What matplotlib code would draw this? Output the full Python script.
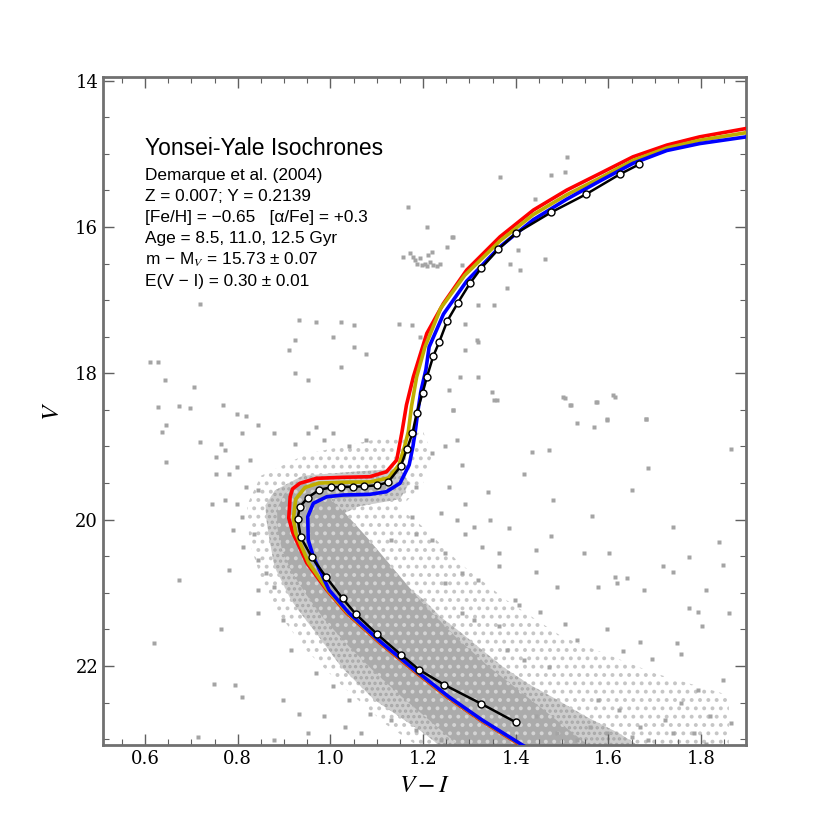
import matplotlib
matplotlib.use("Agg")
import matplotlib.pyplot as plt
from matplotlib.ticker import MultipleLocator

# ---------------- data ----------------
# Isochrones (V-I, V)
iso_red_x = [1.440, 1.405, 1.323, 1.251, 1.178, 1.107, 1.035, 0.992, 0.949, 0.919, 0.910, 0.913, 0.918, 0.934, 0.970,
             1.028, 1.085, 1.121, 1.143, 1.154, 1.164, 1.179, 1.208, 1.244, 1.294, 1.366, 1.438, 1.510, 1.582,
             1.653, 1.726, 1.797, 1.898, 1.950]
iso_red_y = [23.20, 23.06, 22.737, 22.419, 22.054, 21.686, 21.276, 20.961, 20.592, 20.183, 19.978, 19.687, 19.58, 19.503,
             19.435, 19.421, 19.413, 19.345, 19.185, 18.816, 18.434, 18.047, 17.454, 17.044, 16.589, 16.134,
             15.769, 15.496, 15.268, 15.041, 14.881, 14.768, 14.653, 14.600]

iso_olive_x = [1.442, 1.407, 1.325, 1.253, 1.180, 1.109, 1.037, 0.994, 0.953, 0.925, 0.920, 0.925, 0.945, 0.975,
               1.028, 1.085, 1.125, 1.148, 1.160, 1.168, 1.175, 1.186, 1.204, 1.238, 1.290, 1.366, 1.438, 1.510,
               1.582, 1.653, 1.726, 1.797, 1.898, 1.950]
iso_olive_y = [23.20, 23.06, 22.737, 22.419, 22.054, 21.686, 21.276, 20.961, 20.592, 20.183, 19.98, 19.72, 19.56,
               19.50, 19.49, 19.485, 19.43, 19.25, 19.00, 18.80, 18.45, 18.05, 17.64, 17.11, 16.66, 16.19, 15.83,
               15.56, 15.33, 15.09, 14.92, 14.815, 14.71, 14.665]

iso_blue_x = [1.445, 1.409, 1.327, 1.255, 1.182, 1.111, 1.040, 0.997, 0.963, 0.952, 0.951, 0.963, 0.992, 1.028,
              1.085, 1.121, 1.150, 1.170, 1.178, 1.183, 1.188, 1.195, 1.206, 1.213, 1.244, 1.294, 1.366, 1.438,
              1.510, 1.582, 1.653, 1.726, 1.797, 1.898, 1.950]
iso_blue_y = [23.20, 23.06, 22.737, 22.419, 22.054, 21.686, 21.276, 20.961, 20.506, 20.278, 19.960, 19.777, 19.687,
              19.663, 19.654, 19.618, 19.503, 19.25, 19.00, 18.80, 18.55, 18.25, 17.95, 17.64, 17.19, 16.74,
              16.27, 15.90, 15.62, 15.37, 15.13, 14.955, 14.860, 14.768, 14.730]

# Fiducial sequence (points with open circles)
fid_x = [1.400, 1.325, 1.245, 1.192, 1.152, 1.101, 1.055, 1.026, 0.990, 0.960, 0.936, 0.929, 0.934, 0.951, 0.975,
         1.001, 1.023, 1.048, 1.073, 1.100, 1.124, 1.152, 1.165, 1.177, 1.186, 1.199, 1.208, 1.222, 1.235, 1.252,
         1.275, 1.301, 1.325, 1.362, 1.400, 1.476, 1.551, 1.625, 1.666]
fid_y = [22.769, 22.515, 22.255, 22.054, 21.845, 21.567, 21.293, 21.075, 20.780, 20.517, 20.241, 19.987, 19.823,
         19.700, 19.595, 19.558, 19.554, 19.550, 19.544, 19.531, 19.490, 19.267, 19.035, 18.820, 18.547, 18.266,
         18.055, 17.764, 17.569, 17.286, 17.036, 16.771, 16.566, 16.306, 16.088, 15.801, 15.555, 15.278, 15.145]

# Crowded star cloud of the cluster: dense inner part, its outer edge, and the sparse halo
core_x = [0.935, 0.900, 0.885, 0.885, 0.895, 0.915, 0.945, 0.985, 1.035, 1.090, 1.150, 1.215, 1.280,
          1.560, 1.500, 1.420, 1.340, 1.270, 1.200, 1.140, 1.080, 1.030, 1.000, 1.080, 1.120, 1.120, 1.040]
core_y = [19.50, 19.65, 19.85, 20.10, 20.40, 20.70, 21.00, 21.35, 21.70, 22.05, 22.40, 22.75, 23.10,
          23.10, 22.80, 22.40, 22.00, 21.60, 21.15, 20.70, 20.25, 19.90, 19.72, 19.68, 19.58, 19.46, 19.46]
cloud_x = [0.940, 0.880, 0.860, 0.861, 0.866, 0.879, 0.897, 0.915, 0.942, 0.969, 0.996, 1.023, 1.059, 1.094,
           1.148, 1.202, 1.238, 1.668, 1.623, 1.551, 1.489, 1.426, 1.372, 1.327, 1.283, 1.238, 1.202, 1.157,
           1.121, 1.085, 1.050, 1.014, 1.060, 1.150, 1.170, 1.150, 1.040]
cloud_y = [19.40, 19.60, 19.80, 19.96, 20.19, 20.64, 20.87, 21.10, 21.33, 21.55, 21.78, 22.01, 22.24, 22.46,
           22.69, 22.92, 23.10, 23.10, 22.92, 22.69, 22.46, 22.24, 22.01, 21.78, 21.55, 21.33, 21.10, 20.87,
           20.64, 20.42, 20.19, 19.96, 19.82, 19.72, 19.50, 19.30, 19.35]
halo_x = [0.950, 0.850, 0.820, 0.825, 0.850, 0.890, 0.950, 1.030, 1.120, 1.190, 1.860, 1.860, 1.700,
          1.500, 1.380, 1.280, 1.200, 1.150, 1.200, 1.220, 1.200, 1.100]
halo_y = [19.10, 19.40, 19.80, 20.30, 20.80, 21.30, 21.80, 22.30, 22.80, 23.10, 23.10, 22.40, 22.10,
          21.60, 21.10, 20.60, 20.10, 19.85, 19.50, 19.10, 18.80, 18.90]

# Field / scattered stars
star_x = [0.718, 0.611, 0.628, 0.642, 0.705, 0.628, 0.673, 0.696, 0.767, 0.646, 0.637, 0.718, 0.646, 0.763, 0.754,
          0.772, 0.745, 0.799, 0.790, 0.781, 0.673, 0.763, 0.619, 0.749, 0.794, 0.808, 0.714, 0.897, 0.843, 0.933,
          0.969, 1.023, 1.050, 0.924, 1.005, 0.911, 1.050, 1.076, 0.924, 0.951, 1.023, 1.148, 1.175, 1.193, 1.318,
          1.354, 1.291, 1.318, 1.291, 1.318, 1.256, 1.265, 1.354, 1.506, 1.574, 1.614, 1.520, 1.596, 1.681, 1.533,
          1.569, 1.471, 1.435, 1.865, 1.686, 1.417, 1.283, 1.650, 1.480, 1.565, 1.739, 1.386, 1.475, 1.444, 1.327,
          1.363, 1.547, 1.601, 1.838, 1.775, 1.847, 1.717, 1.739, 1.444, 1.489, 1.614, 1.641, 1.619, 1.578, 1.677,
          1.811, 1.775, 1.793, 1.860, 1.399, 1.408, 1.453, 1.506, 1.533, 1.596, 1.668, 1.748, 1.802, 1.757, 1.695,
          1.632, 1.847, 1.793, 1.757, 1.722, 1.820, 1.784, 1.865, 1.578, 1.623, 1.668, 1.489, 1.444, 1.381, 1.417,
          1.471, 1.363, 1.309, 1.283, 1.247, 1.283, 1.318, 1.363, 1.247, 1.220, 1.184, 1.130, 1.175, 1.238, 1.274,
          1.291, 1.309, 1.345, 1.256, 1.341, 1.291, 1.184, 1.166, 1.220, 1.247, 1.274, 1.076, 1.041, 1.005, 0.987,
          0.969, 0.951, 0.924, 0.879, 0.843, 0.817, 0.799, 0.808, 0.772, 0.799, 0.826, 0.754, 0.781, 0.817, 0.843,
          0.808, 0.835, 0.812, 0.843, 0.861, 0.879, 0.843, 0.897, 0.915, 0.969, 1.005, 1.041, 1.085, 1.130, 1.184,
          1.238, 0.987, 1.032, 1.067, 0.933, 0.951, 0.879, 1.533, 1.560, 1.596, 1.650, 1.686, 1.739, 1.811,
          1.510, 1.477, 1.506, 1.366, 1.168, 1.208, 1.441, 1.265, 1.463, 1.405, 1.387, 1.409, 1.283, 1.381, 1.316,
          1.280, 1.348, 1.359, 1.502, 1.517, 1.575, 1.610, 1.265, 1.682, 1.596,
          1.157, 1.172, 1.183, 1.193, 1.204, 1.215, 1.222, 1.211, 1.229, 1.197, 1.186, 1.219, 1.236, 1.179, 1.208,
          1.262, 1.251]
star_y = [17.05, 17.84, 17.84, 18.09, 18.19, 18.46, 18.45, 18.48, 18.43, 18.71, 18.80, 18.94, 19.21, 18.96, 19.37,
          19.73, 19.78, 19.78, 20.14, 20.69, 20.83, 21.49, 21.69, 22.24, 22.26, 22.42, 22.97, 22.46, 21.28, 17.27,
          17.30, 17.30, 17.34, 17.55, 17.50, 17.68, 17.64, 17.73, 18.00, 18.09, 17.91, 17.32, 17.34, 17.50, 17.07,
          17.07, 17.32, 17.57, 17.68, 18.05, 18.23, 18.50, 18.37, 18.34, 18.39, 18.32, 18.43, 18.64, 18.62, 18.68,
          18.73, 19.05, 19.07, 19.03, 19.30, 19.37, 19.25, 19.60, 19.73, 19.95, 20.10, 20.12, 20.23, 20.42, 20.37,
          20.46, 20.46, 20.46, 20.30, 20.51, 20.62, 20.64, 20.71, 20.71, 20.92, 20.78, 20.80, 20.87, 20.92, 20.96,
          20.96, 21.21, 21.26, 21.28, 21.10, 21.17, 21.26, 21.42, 21.65, 21.49, 21.67, 21.69, 21.46, 21.83, 21.90,
          21.80, 22.19, 22.33, 22.51, 22.74, 22.69, 22.92, 22.78, 22.46, 22.60, 22.83, 22.92, 22.69, 21.78, 21.92,
          22.01, 21.46, 21.37, 21.28, 20.87, 20.73, 20.83, 20.64, 20.46, 20.28, 20.19, 20.28, 19.96, 19.91, 20.01,
          20.19, 20.10, 20.01, 19.55, 19.62, 19.78, 19.55, 19.28, 19.09, 19.00, 18.91, 18.91, 19.00, 18.82, 18.91,
          18.73, 18.82, 18.96, 18.82, 18.71, 18.59, 18.55, 18.82, 19.05, 19.28, 19.19, 19.14, 19.37, 19.55, 19.60,
          19.96, 20.19, 20.37, 20.55, 20.73, 20.92, 20.96, 21.37, 21.78, 22.10, 22.28, 22.46, 22.65, 22.74, 22.87,
          23.01, 22.69, 22.83, 22.92, 22.65, 22.92, 23.01, 23.01, 22.83, 22.92, 22.97, 23.01, 22.92, 23.06,
          15.04, 15.29, 15.25, 15.31, 15.72, 16.00, 15.62, 16.13, 16.44, 16.32, 16.50, 16.59, 16.52, 16.84, 17.55,
          18.05, 18.25, 18.37, 18.32, 18.43, 18.39, 18.30, 18.50, 18.62, 18.62,
          16.41, 16.36, 16.45, 16.43, 16.50, 16.48, 16.52, 16.38, 16.54, 16.52, 16.50, 16.34, 16.50, 16.41, 16.54,
          16.13, 16.27]

x_ticks = [0.6, 0.8, 1.0, 1.2, 1.4, 1.6, 1.8]
y_ticks = [14, 16, 18, 20, 22]

info_title = "Yonsei-Yale Isochrones"
info_lines = ["Demarque et al. (2004)",
              "Z = 0.007; Y = 0.2139",
              "[Fe/H] = \u22120.65   [\u03b1/Fe] = +0.3",
              "Age = 8.5, 11.0, 12.5 Gyr",
              "m \u2212 M$_V$ = 15.73 \u00b1 0.07",
              "E(V \u2212 I) = 0.30 \u00b1 0.01"]

# ---------------- figure ----------------
plt.rcParams['mathtext.fontset'] = 'stix'
plt.rcParams['hatch.linewidth'] = 1.6
fig = plt.figure(figsize=(8.3, 8.3), dpi=100)
ax = fig.add_axes([103 / 830, 1 - 745 / 830, 643 / 830, 668 / 830])

ax.fill(halo_x, halo_y, facecolor='none', edgecolor='#c6c6c6', hatch='..', lw=0, zorder=1)
ax.fill(cloud_x, cloud_y, facecolor='#cdcdcd', edgecolor='#a8a8a8', hatch='...', lw=0, zorder=1.05)
ax.fill(core_x, core_y, facecolor='#ababab', edgecolor='#d4d4d4', hatch='..', lw=0, zorder=1.1)
ax.plot(star_x, star_y, ls='none', marker='s', ms=2.3, mfc='#a4a4a4', mec='none', zorder=1.2)

ax.plot(iso_red_x, iso_red_y, color='#ff0000', lw=2.6, zorder=3, solid_capstyle='round', solid_joinstyle='round')
ax.plot(iso_olive_x, iso_olive_y, color='#bfae00', lw=2.6, zorder=3.1, solid_capstyle='round', solid_joinstyle='round')
ax.plot(iso_blue_x, iso_blue_y, color='#0000ff', lw=2.6, zorder=3.2, solid_capstyle='round', solid_joinstyle='round')
ax.plot(fid_x, fid_y, color='black', lw=1.8, marker='o', ms=5, mfc='white', mec='black', mew=1.0, zorder=4)

ax.set_xlim(0.509, 1.897)
ax.set_ylim(23.08, 13.95)
ax.set_xticks(x_ticks)
ax.set_yticks(y_ticks)
ax.xaxis.set_minor_locator(MultipleLocator(0.05))
ax.yaxis.set_minor_locator(MultipleLocator(0.5))
ax.tick_params(which='both', direction='in', top=True, right=True, color='#606060')
ax.tick_params(which='major', length=8, width=1.0)
ax.tick_params(which='minor', length=4, width=0.8)
for lab in ax.get_xticklabels() + ax.get_yticklabels():
    lab.set_family('DejaVu Serif')
    lab.set_fontsize(13)
for sp in ax.spines.values():
    sp.set_color('#707070')
    sp.set_linewidth(2.0)

ax.set_xlabel('$V - I$', fontsize=18, labelpad=4)
ax.set_ylabel('$V$', fontsize=18, labelpad=8)

ax.text(0.065, 0.893, info_title, transform=ax.transAxes, fontsize=16.5, family='Liberation Sans',
        va='center', zorder=5)
for i, line in enumerate(info_lines):
    ax.text(0.065, 0.852 - i * 0.0315, line, transform=ax.transAxes, fontsize=12.4, family='Liberation Sans',
            va='center', zorder=5)

fig.savefig('out.png', dpi=100)
